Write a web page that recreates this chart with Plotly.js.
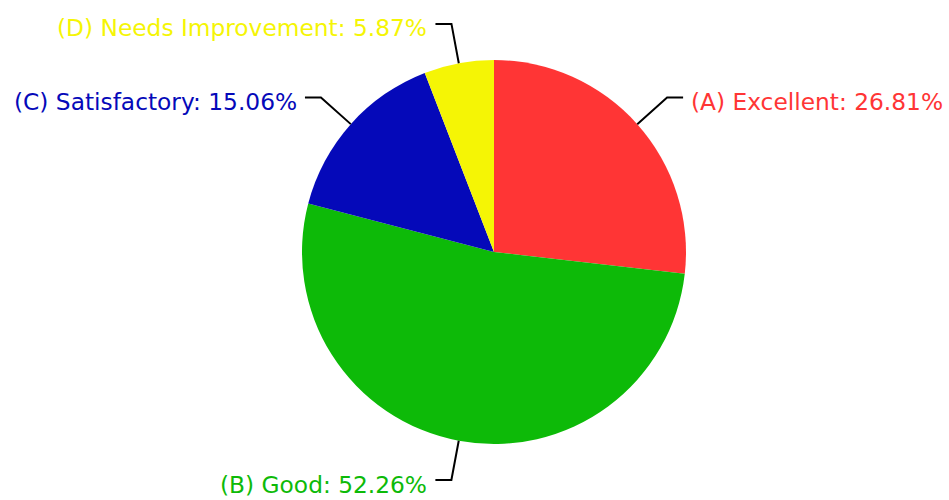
<!DOCTYPE html>
<html>
<head>
<meta charset="utf-8">
<script src="https://cdn.plot.ly/plotly-3.0.1.min.js"></script>
<style>html,body{margin:0;padding:0;background:#fff;}#chart{width:949px;height:500px;}</style>
</head>
<body>
<div id="chart"></div>
<script>
const categories = ["(A) Excellent", "(B) Good", "(C) Satisfactory", "(D) Needs Improvement"];
const shares = [26.81, 52.26, 15.06, 5.87];
const colors = ["#ff3535", "#0dba08", "#0509b9", "#f5f505"];

const W = 949, H = 500;
const cx = 494, cy = 252, R = 192;   // pie centre and radius in pixels
const elbowOut = 40, hookLen = 16, textGap = 6;
const fontFamily = "DejaVu Sans, Verdana, sans-serif";
const fontSize = 23.3;

const px = x => x / W;
const py = y => 1 - y / H;

const total = shares.reduce((a, b) => a + b, 0);
const annotations = [];
const shapes = [];
let cum = 0;
shares.forEach((s, i) => {
  const theta = 2 * Math.PI * (cum + s / 2) / total;
  cum += s;
  const sx = Math.sin(theta), cy_ = Math.cos(theta);
  const x0 = cx + R * sx, y0 = cy - R * cy_;
  const x1 = cx + (R + elbowOut) * sx, y1 = cy - (R + elbowOut) * cy_;
  const right = sx >= 0;
  const x2 = x1 + (right ? hookLen : -hookLen);
  shapes.push({
    type: "path", xref: "paper", yref: "paper",
    path: `M ${px(x0)},${py(y0)} L ${px(x1)},${py(y1)} L ${px(x2)},${py(y1)}`,
    line: {color: "#000000", width: 2}
  });
  annotations.push({
    xref: "paper", yref: "paper",
    x: px(x2 + (right ? textGap : -textGap)), y: py(y1),
    xanchor: right ? "left" : "right", yanchor: "middle",
    yshift: -4,
    text: `${categories[i]}: ${(100 * s / total).toFixed(2)}%`,
    showarrow: false,
    font: {family: fontFamily, size: fontSize, color: colors[i]}
  });
});

const trace = {
  type: "pie",
  labels: categories,
  values: shares,
  sort: false,
  direction: "clockwise",
  rotation: 0,
  marker: {colors: colors, line: {width: 0}},
  textinfo: "none",
  domain: {x: [px(cx - R), px(cx + R)], y: [py(cy + R), py(cy - R)]},
  showlegend: false,
  hoverinfo: "none"
};

const layout = {
  width: W,
  height: H,
  margin: {l: 0, r: 0, t: 0, b: 0},
  paper_bgcolor: "#ffffff",
  plot_bgcolor: "#ffffff",
  showlegend: false,
  annotations: annotations,
  shapes: shapes
};

Plotly.newPlot("chart", [trace], layout, {displayModeBar: false, staticPlot: true});
</script>
</body>
</html>
